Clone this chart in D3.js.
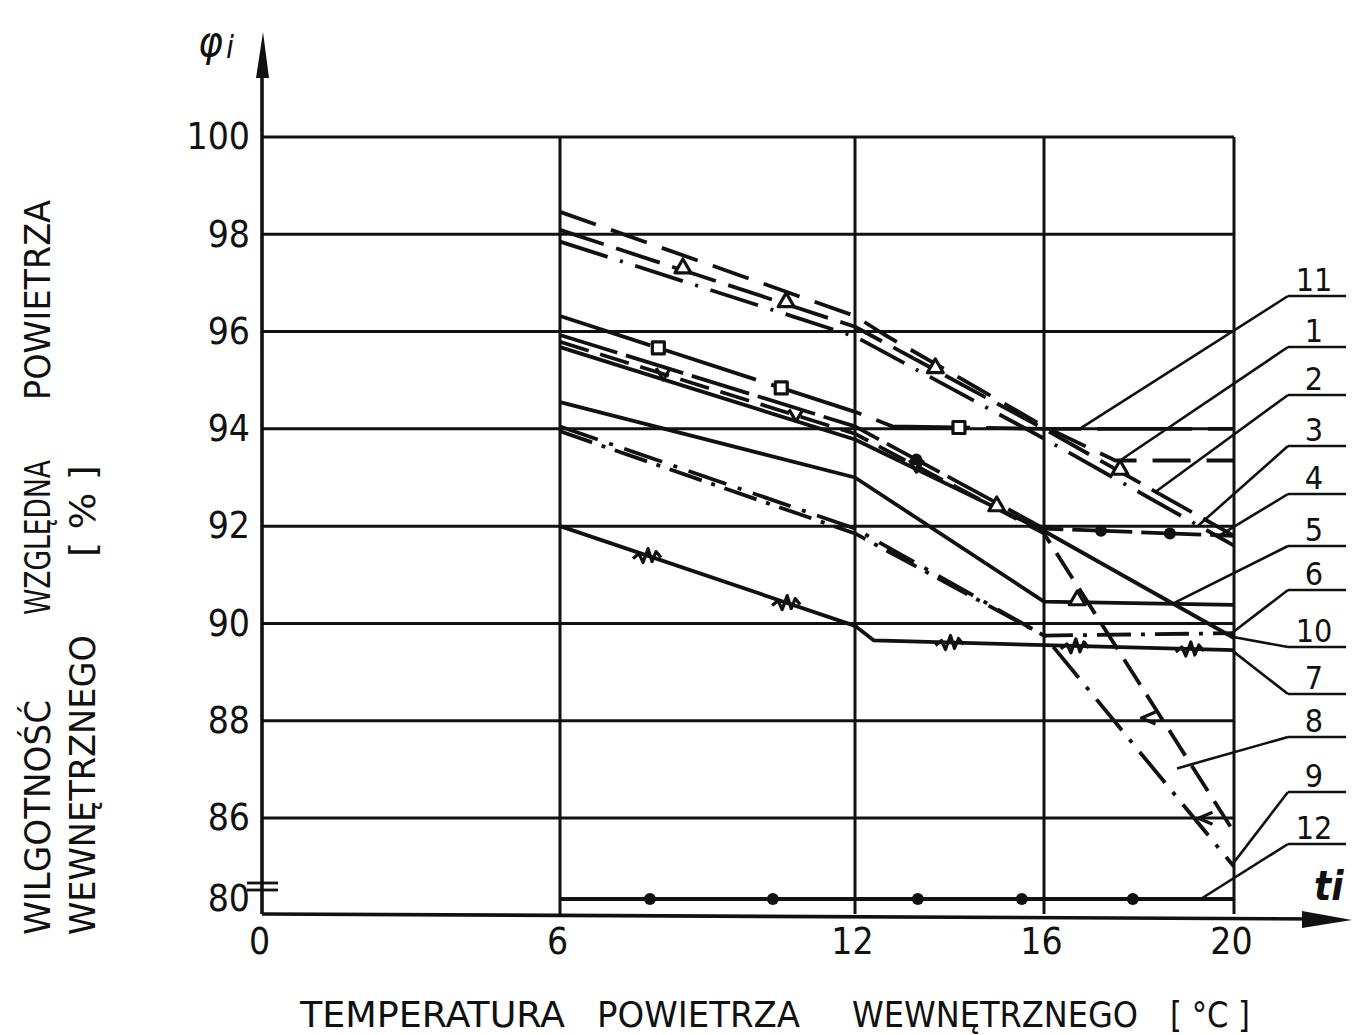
<!DOCTYPE html>
<html>
<head>
<meta charset="utf-8">
<script src="https://cdn.jsdelivr.net/npm/d3@7"></script>
<style>
  body { margin: 0; background: #fff; }
  text { font-family: "Liberation Sans Narrow", "DejaVu Sans Condensed", "Arial Narrow", sans-serif; fill: #111; }
</style>
</head>
<body>
<svg id="chart" width="1353" height="1035"></svg>
<script>
// axis values
const tTicks = [0, 6, 12, 16, 20];
const tGrid = [6, 12, 16, 20];
const phiTicks = [80, 86, 88, 90, 92, 94, 96, 98, 100];
const phiGrid = [86, 88, 90, 92, 94, 96, 98, 100];

// curves: [t, phi]
const curve1 = [[6, 98.46], [12, 96.32], [12.6, 95.95], [16, 94.05], [17.5, 93.35], [20, 93.35]];
const curve2 = [[6, 98.09], [12, 96.1], [16, 94.0], [20, 91.8]];
const curve3 = [[6, 97.85], [12, 95.9], [16, 93.8], [20, 91.6]];
const curve11 = [[6, 96.32], [12, 94.35], [12.8, 94.05], [16, 94.0], [20, 94.0]];
const curve4 = [[6, 95.93], [12, 94.05], [16, 91.95], [20, 91.8]];
const curve8 = [[6, 95.79], [12, 93.9], [16, 91.85], [20, 84.95]];
const curve10 = [[6, 95.68], [12, 93.78], [16, 91.9], [20, 89.7]];
const curve5 = [[6, 94.55], [12, 93.0], [16, 90.45], [20, 90.38]];
const curve9 = [[6, 94.05], [12, 91.95], [16, 89.75], [20, 82.4]];
const curve6 = [[6, 93.95], [12, 91.85], [16, 89.75], [20, 89.8]];
const curve7 = [[6, 92.0], [12, 89.95], [12.4, 89.65], [20, 89.45]];
const curve12 = [[6, 80.0], [20, 80.0]];

// where the little symbols sit on each curve (t values)
const marks2 = [8.5, 10.6, 13.7, 17.6];
const marks11 = [8.0, 10.5, 14.2];
const marks4 = [13.3, 17.2, 18.65];
const marks8v = [8.1, 10.8, 13.3];
const marks8lt = [18.2, 19.4];
const marks10 = [15.0];
const marks5 = [16.7];
const marks7 = [7.77, 10.6, 14.0, 16.65, 19.07];
const marks12 = [7.83, 10.33, 13.33, 15.53, 17.87];

// right-hand numbering: label and the t where its leader touches the curve
const labelIds = [11, 1, 2, 3, 4, 5, 6, 10, 7, 8, 9, 12];
const labelTouch = [16.75, 17.6, 18.35, 19.25, 19.7, 18.7, 19.95, 19.95, 19.95, 18.8, 19.95, 19.3];

const curves = [
  { id: 1, pts: curve1, dash: "38 16" },
  { id: 2, pts: curve2, dash: "46 13", marks: marks2, mark: "tri" },
  { id: 3, pts: curve3, dash: "50 13 3 13" },
  { id: 11, pts: curve11, dash: "95 16", marks: marks11, mark: "sq" },
  { id: 4, pts: curve4, dash: "60 9", marks: marks4, mark: "dot" },
  { id: 8, pts: curve8, dash: "30 12", marks: marks8v, mark: "v", marks2: marks8lt, mark2: "lt" },
  { id: 10, pts: curve10, dash: null, marks: marks10, mark: "tri" },
  { id: 5, pts: curve5, dash: null, marks: marks5, mark: "tri" },
  { id: 9, pts: curve9, dash: "40 12 4 12" },
  { id: 6, pts: curve6, dash: "34 10 4 10" },
  { id: 7, pts: curve7, dash: null, marks: marks7, mark: "wave" },
  { id: 12, pts: curve12, dash: null, marks: marks12, mark: "dot" }
];

const svg = d3.select("#chart");
const ink = "#111";

const x = d3.scaleLinear().domain([0, 6, 12, 16, 20]).range([262, 560, 855, 1044, 1234]);
const y = d3.scaleLinear().domain([80, 86, 100]).range([899, 818, 137]);
const axisY = y(80) + 15;

// grid
svg.append("g").selectAll("line").data(phiGrid).join("line")
  .attr("x1", x(0)).attr("x2", x(20))
  .attr("y1", d => y(d)).attr("y2", d => y(d))
  .attr("stroke", ink).attr("stroke-width", 3);
svg.append("g").selectAll("line").data(tGrid).join("line")
  .attr("x1", d => x(d)).attr("x2", d => x(d))
  .attr("y1", y(100)).attr("y2", axisY)
  .attr("stroke", ink).attr("stroke-width", 3);

// axes with arrows
svg.append("line").attr("x1", x(0)).attr("x2", x(0)).attr("y1", axisY).attr("y2", 60)
  .attr("stroke", ink).attr("stroke-width", 3.6);
svg.append("path").attr("d", `M${x(0) + 1},32 L${x(0) - 6},78 L${x(0) + 7},78 Z`).attr("fill", ink);
svg.append("line").attr("x1", x(0)).attr("x2", 1320).attr("y1", axisY).attr("y2", axisY + 5)
  .attr("stroke", ink).attr("stroke-width", 3.6);
svg.append("path").attr("d", `M1352,${axisY + 6} L1302,${axisY - 3} L1302,${axisY + 14} Z`).attr("fill", ink);

// axis break marks
[16, 9].forEach(o => {
  svg.append("line").attr("x1", x(0) - 15).attr("x2", x(0) + 16)
    .attr("y1", y(80) - o).attr("y2", y(80) - o)
    .attr("stroke", ink).attr("stroke-width", 2.8);
});

// tick labels
const yAxis = svg.append("g").attr("transform", `translate(${x(0)},0)`)
  .call(d3.axisLeft(y).tickValues(phiTicks).tickSize(0).tickPadding(12).tickFormat(d3.format("d")));
yAxis.select(".domain").remove();
yAxis.selectAll("text").attr("font-size", 37).attr("fill", ink)
  .attr("font-family", "Liberation Sans Narrow, DejaVu Sans Condensed, sans-serif");

const xAxis = svg.append("g").attr("transform", `translate(0,${axisY})`)
  .call(d3.axisBottom(x).tickValues(tTicks).tickSize(0).tickPadding(14).tickFormat(d3.format("d")));
xAxis.select(".domain").remove();
xAxis.selectAll("text").attr("font-size", 37).attr("fill", ink)
  .attr("font-family", "Liberation Sans Narrow, DejaVu Sans Condensed, sans-serif")
  .attr("dx", -3);

// axis symbols
svg.append("text").attr("x", 198).attr("y", 56).attr("font-size", 42)
  .attr("font-family", "DejaVu Serif").attr("font-style", "italic").text("φ");
svg.append("text").attr("x", 226).attr("y", 58).attr("font-size", 32)
  .attr("font-family", "DejaVu Serif").attr("font-style", "italic").text("i");
svg.append("text").attr("x", 1314).attr("y", 900).attr("font-size", 40)
  .attr("font-family", "DejaVu Serif").attr("font-style", "italic").attr("font-weight", "bold").text("ti");

// titles
const xTitle = [["TEMPERATURA", 300, 265], ["POWIETRZA", 597, 203], ["WEWNĘTRZNEGO", 852, 286], ["[ °C ]", 1170, 80]];
xTitle.forEach(([w, x0, len]) => {
  svg.append("text").attr("x", x0).attr("y", 1027).attr("font-size", 36)
    .attr("textLength", len).attr("lengthAdjust", "spacingAndGlyphs").text(w);
});
const yTitle = [["WILGOTNOŚĆ", 50, 935, 235], ["WZGLĘDNA", 50, 615, 155], ["POWIETRZA", 50, 400, 200],
                ["WEWNĘTRZNEGO", 95, 935, 300], ["[ % ]", 95, 557, 92]];
yTitle.forEach(([w, cx, yb, len]) => {
  svg.append("text").attr("transform", `translate(${cx},${yb}) rotate(-90)`)
    .attr("font-size", 35).attr("textLength", len).attr("lengthAdjust", "spacingAndGlyphs").text(w);
});

// curves
const line = d3.line().x(d => x(d[0])).y(d => y(d[1]));
function phiAt(pts, t) {
  for (let i = 1; i < pts.length; i++) {
    if (t <= pts[i][0]) {
      const [t0, p0] = pts[i - 1], [t1, p1] = pts[i];
      return p0 + (p1 - p0) * (t - t0) / (t1 - t0);
    }
  }
  return pts[pts.length - 1][1];
}

const curveG = svg.append("g");
curves.forEach(c => {
  curveG.append("path").attr("d", line(c.pts)).attr("fill", "none")
    .attr("stroke", ink).attr("stroke-width", 3.8)
    .attr("stroke-dasharray", c.dash).attr("stroke-linejoin", "round");
});

const symbolPaths = {
  tri: d3.symbol().type(d3.symbolTriangle).size(110)(),
  sq: "M-6,-6 L6,-6 L6,6 L-6,6 Z",
  v: "M-7,-6 L0,6 L7,-6",
  lt: "M7,-6 L-7,0 L7,6",
  wave: "M-14,3 L-8,-2 L-4,7 L1,-7 L5,6 L9,-4 L14,2"
};
function drawMarks(c, ts, type) {
  if (!ts) return;
  ts.forEach(t => {
    const px = x(t), py = y(phiAt(c.pts, t));
    if (type === "dot") {
      curveG.append("circle").attr("cx", px).attr("cy", py).attr("r", 6).attr("fill", ink);
    } else {
      curveG.append("path").attr("d", symbolPaths[type])
        .attr("transform", `translate(${px},${py - (type === "tri" ? 2 : 0)})`)
        .attr("fill", type === "tri" || type === "sq" ? "#fff" : "none")
        .attr("stroke", ink).attr("stroke-width", 3.2).attr("stroke-linejoin", "round");
    }
  });
}
curves.forEach(c => { drawMarks(c, c.marks, c.mark); drawMarks(c, c.marks2, c.mark2); });

// numbering on the right with leaders
const labelTop = [267, 318, 366, 417, 465, 517, 561, 618, 665, 708, 763, 815];
const labelG = svg.append("g");
labelIds.forEach((id, i) => {
  const c = curves.find(k => k.id === id);
  const t = labelTouch[i];
  const baseY = labelTop[i] + 24;
  const uy = baseY + 5;
  labelG.append("text").attr("x", 1314).attr("y", baseY).attr("text-anchor", "middle")
    .attr("font-size", 32).text(id);
  labelG.append("line").attr("x1", 1288).attr("x2", 1346).attr("y1", uy).attr("y2", uy)
    .attr("stroke", ink).attr("stroke-width", 2.6);
  labelG.append("line").attr("x1", 1288).attr("y1", uy)
    .attr("x2", x(t)).attr("y2", y(phiAt(c.pts, t)))
    .attr("stroke", ink).attr("stroke-width", 2.6);
});
</script>
</body>
</html>
